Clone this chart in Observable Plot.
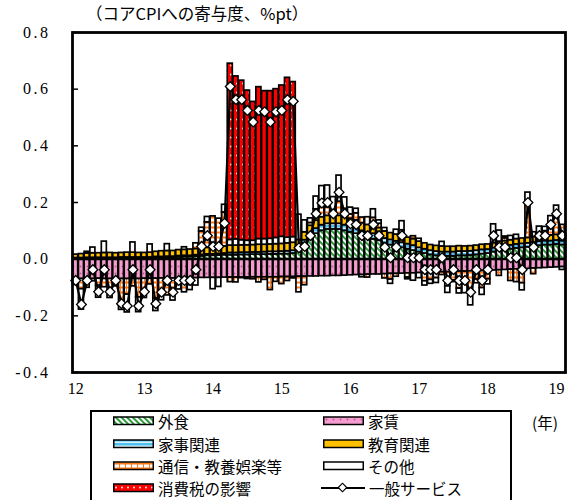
<!DOCTYPE html>
<html>
<head>
<meta charset="utf-8">
<script src="https://cdn.jsdelivr.net/npm/d3@7"></script>
<script src="https://cdn.jsdelivr.net/npm/@observablehq/plot@0.6"></script>
<style>
  html, body { margin: 0; padding: 0; background: #fff; }
  #wrap { position: relative; width: 567px; height: 500px; overflow: hidden; font-family: "Noto Sans CJK JP", sans-serif; color: #000; }
  #title { height: 25px; line-height: 27px; padding-left: 86px; font-size: 16.5px; white-space: nowrap; }
  #chart { height: 385px; }
  #chart svg { display: block; }
  #chart svg text { font-family: "Liberation Serif", "DejaVu Serif", serif; }
  #chart g[aria-label="y-axis tick label"] text { letter-spacing: 2.5px; }
  #legend { position: absolute; left: 90px; top: 410px; width: 422px; height: 100px; border: 2px solid #000; box-sizing: border-box; }
  .item { position: absolute; height: 18px; line-height: 18px; display: flex; align-items: center; font-size: 15.5px; white-space: nowrap; }
  .item svg { display: block; margin-right: 4px; }
  #unit { position: absolute; left: 532px; top: 411px; font-size: 15.5px; line-height: 22px; }
</style>
</head>
<body>
<svg width="0" height="0" style="position:absolute">
  <defs>
    <pattern id="pGai" width="4" height="4" patternUnits="userSpaceOnUse" patternTransform="rotate(-45)">
      <rect width="4" height="4" fill="#ffffff"/><rect width="2" height="4" fill="#2b9a3b"/>
    </pattern>
    <pattern id="pRent" width="7" height="7" patternUnits="userSpaceOnUse">
      <rect width="7" height="7" fill="#f59ccf"/><circle cx="3.5" cy="3.5" r="0.9" fill="#b8589a"/>
    </pattern>
    <pattern id="pKaji" width="4" height="4" patternUnits="userSpaceOnUse">
      <rect width="4" height="4" fill="#4fbfee"/><rect y="2.6" width="4" height="1.2" fill="#ffffff"/>
    </pattern>
    <pattern id="pTsu" width="6" height="5" patternUnits="userSpaceOnUse">
      <rect width="6" height="5" fill="#ffffff"/><rect y="1.5" width="6" height="2" fill="#ff7a1a"/><rect x="0" width="1" height="5" fill="#ff7a1a"/>
    </pattern>
    <pattern id="pTax" width="6" height="9" patternUnits="userSpaceOnUse">
      <rect width="6" height="9" fill="#ff0000"/><circle cx="3" cy="4.5" r="0.9" fill="#ffffff"/>
    </pattern>
  </defs>
</svg>
<div id="wrap">
  <div id="title">（コアCPIへの寄与度、%pt）</div>
  <div id="chart"></div>
  <div id="legend"></div>
  <div id="unit">(年)</div>
</div>
<script>
// ---- data (monthly, 2012/01 .. 2019/02) ----
const yearLabels = ["12", "13", "14", "15", "16", "17", "18", "19"];
const seriesNames = ["外食", "家賃", "家事関連", "教育関連", "通信・教養娯楽等", "その他", "消費税の影響"];
const lineName = "一般サービス";

const gaishoku = [
  0.002,0.002,0.003,0.003,0.003,0.003,0.003,0.003,0.004,0.004,0.004,0.004,
  0.004,0.004,0.005,0.005,0.006,0.006,0.007,0.008,0.008,0.009,0.01,0.012,
  0.012,0.013,0.014,
  0.014,0.014,0.015,0.015,0.016,0.016,0.016,0.017,0.017,0.018,0.018,0.02,
  0.03,0.055,0.075,0.09,0.1,0.105,0.105,0.105,0.1,0.095,0.09,0.08,0.075,0.07,0.065,0.055,0.05,0.045,0.04,0.035,0.03,
  0.025,0.02,0.015,0.012,0.01,0.01,0.01,0.012,0.012,0.013,0.015,0.018,
  0.02,0.025,0.03,0.032,0.035,0.038,0.04,0.042,0.045,0.048,0.05,0.05,0.052,0.05
];
const yachin = [
  -0.07,-0.07,-0.071,-0.07,-0.069,-0.07,-0.07,-0.069,-0.07,-0.07,-0.069,-0.07,
  -0.069,-0.069,-0.069,-0.068,-0.068,-0.068,-0.068,-0.067,-0.067,-0.067,-0.066,-0.066,
  -0.066,-0.066,-0.065,
  -0.065,-0.065,-0.065,-0.065,-0.064,-0.064,-0.064,-0.064,-0.064,-0.063,-0.063,-0.063,
  -0.062,-0.062,-0.061,-0.061,-0.06,-0.06,-0.059,-0.059,-0.058,
  -0.057,-0.056,-0.056,-0.055,-0.054,-0.054,-0.053,-0.052,-0.052,-0.051,-0.05,-0.05,
  -0.049,-0.048,-0.048,-0.047,-0.046,-0.046,-0.045,-0.044,-0.044,-0.043,-0.042,-0.042,
  -0.041,-0.04,-0.039,-0.038,-0.037,-0.036,-0.035,-0.034,-0.033,-0.032,-0.031,-0.03,
  -0.029,-0.028
];
const kaji = [
  0.002,0.002,0.002,0.002,0.002,0.002,0.002,0.002,0.002,0.002,0.002,0.002,
  0.002,0.002,0.003,0.003,0.003,0.003,0.004,0.004,0.004,0.005,0.005,0.005,
  0.005,0.006,0.006,
  0.008,0.008,0.008,0.008,0.008,0.008,0.009,0.009,0.009,0.009,0.01,0.01,
  0.01,0.012,0.015,0.018,
  0.02,0.02,0.02,0.02,0.02,0.02,0.02,0.02,0.02,0.02,0.02,
  0.018,0.018,0.018,0.018,0.018,0.018,
  0.015,0.015,0.015,0.015,0.015,0.015,0.015,0.015,0.015,0.015,0.015,0.015,
  0.014,0.014,0.014,0.014,0.014,0.014,0.014,0.014,0.014,0.014,0.014,0.014,0.014,0.014
];
const kyoiku = [
  0.012,0.014,0.015,0.016,0.016,0.017,0.017,0.016,0.016,0.017,0.017,0.016,
  0.016,0.017,0.018,0.02,0.02,0.02,0.021,0.021,0.022,0.022,0.023,0.023,
  0.024,0.024,0.025,
  0.026,0.026,0.026,0.026,0.026,0.027,0.026,0.026,0.027,0.027,0.028,0.028,
  0.028,0.028,0.028,0.028,0.028,0.028,0.028,0.028,0.028,0.028,
  0.027,0.027,0.026,0.026,0.025,0.025,0.024,0.024,0.024,0.023,0.023,
  0.022,0.021,0.02,0.02,0.02,0.019,0.019,0.019,0.018,0.018,0.018,0.018,
  0.018,0.018,0.018,0.018,0.018,0.019,0.019,0.019,0.019,0.02,0.02,0.02,0.02,0.02
];
const tsushin = [
  -0.015,-0.036,-0.03,-0.008,-0.025,-0.029,-0.045,-0.015,-0.09,-0.055,-0.027,-0.065,
  -0.04,-0.02,-0.07,-0.05,-0.06,-0.05,-0.02,-0.05,-0.025,0.02,0.06,0.09,
  0.11,0.1,0.12,
  -0.016,-0.017,-0.002,-0.005,-0.007,-0.018,-0.009,-0.045,-0.016,-0.025,-0.014,-0.005,
  -0.055,-0.03,0.01,0.04,0.06,0.03,0.02,0.05,0.03,0.015,0.025,0.02,-0.01,0.03,0.015,-0.015,-0.02,-0.01,0.02,-0.015,0.01,
  0.01,-0.03,-0.025,-0.02,-0.01,-0.05,-0.03,-0.06,-0.045,-0.07,-0.03,-0.06,
  -0.03,0.03,-0.02,0.01,-0.04,-0.045,-0.05,0.12,-0.02,0.01,0.015,0.03,0.06,0.037
];
const sonota = [
  -0.006,-0.072,0.006,0.02,-0.042,0.04,-0.022,-0.012,-0.019,-0.063,0.036,-0.052,
  -0.028,0.029,-0.044,-0.027,0.024,-0.028,-0.019,0.009,-0.017,-0.026,0.013,0.019,
  -0.04,-0.032,0.027,
  0.02,0.022,0.018,0.016,0.015,0.02,0.02,0.02,0.022,0.025,0.02,0.02,
  0.089,0.042,0.016,0.045,0.05,0.077,0.046,0.092,0.04,0.024,0.016,-0.008,0.027,0.03,0.012,0.012,-0.015,0.017,0.032,-0.006,-0.026,
  -0.018,-0.015,-0.014,-0.017,0.016,-0.023,-0.006,-0.017,-0.031,-0.05,-0.013,-0.024,
  -0.018,0.036,0.039,0.006,0.015,0.015,-0.025,0.04,0.017,0.023,0.015,0.038,0.043,-0.01
];
const shohizei = [
  0,0,0,0,0,0,0,0,0,0,0,0,
  0,0,0,0,0,0,0,0,0,0,0,0,
  0,0,0,
  0.622,0.575,0.563,0.53,0.49,0.536,0.522,0.521,0.525,0.534,0.564,0.547,
  0,0,0,0,0,0,0,0,0,0,0,0,0,0,0,0,0,0,0,0,0,
  0,0,0,0,0,0,0,0,0,0,0,0,
  0,0,0,0,0,0,0,0,0,0,0,0,0,0
];
const ippanService = [
  -0.075,-0.16,-0.075,-0.037,-0.115,-0.037,-0.115,-0.075,-0.157,-0.165,-0.037,-0.165,
  -0.115,-0.037,-0.157,-0.117,-0.075,-0.117,-0.075,-0.075,-0.075,-0.037,0.045,0.083,
  0.045,0.045,0.127,
  0.609,0.563,0.563,0.525,0.484,0.525,0.52,0.484,0.52,0.525,0.563,0.557,
  0.04,0.045,0.083,0.16,0.198,0.2,0.16,0.236,0.16,0.125,0.122,0.083,0.083,0.122,0.083,0.042,0.005,0.042,0.083,0.005,0.005,
  0.005,-0.037,-0.037,-0.037,0.005,-0.075,-0.037,-0.075,-0.075,-0.117,-0.037,-0.075,
  -0.037,0.083,0.042,0.042,0.005,0.005,-0.037,0.2,0.042,0.083,0.083,0.122,0.16,0.083
];
const yTicks = [-0.4, -0.2, 0, 0.2, 0.4, 0.6, 0.8];

// ---- styles ----
const seriesValues = [gaishoku, yachin, kaji, kyoiku, tsushin, sonota, shohizei];
const fills = ["url(#pGai)", "url(#pRent)", "url(#pKaji)", "#ffc000", "url(#pTsu)", "#ffffff", "url(#pTax)"];
const serif = "'Liberation Serif', 'DejaVu Serif', serif";

const months = d3.range(ippanService.length);
const bars = [];
seriesNames.forEach((s, si) => seriesValues[si].forEach((v, i) => bars.push({m: i, s, v})));
const line = ippanService.map((v, i) => ({m: i, v}));
const janIdx = yearLabels.map((_, k) => k * 12);

const chart = Plot.plot({
  width: 567,
  height: 385,
  marginTop: 7,
  marginBottom: 38,
  marginLeft: 72,
  marginRight: 2,
  style: {fontFamily: serif, fontSize: "16px", color: "#000", background: "#fff"},
  x: {type: "band", domain: months, padding: 0.12, axis: null, label: null},
  y: {domain: [-0.4, 0.8], axis: null, label: null},
  color: {type: "ordinal", domain: seriesNames, range: fills},
  marks: [
    Plot.barY(bars, {x: "m", y: "v", fill: "s", stroke: "#000", strokeWidth: 1.7}),
    Plot.ruleY([0], {stroke: "#000", strokeWidth: 2}),
    Plot.line(line, {x: "m", y: "v", stroke: "#000", strokeWidth: 2.2}),
    Plot.dot(line, {x: "m", y: "v", symbol: "square", rotate: 45, r: 3.9, fill: "#fff", stroke: "#000", strokeWidth: 1.3}),
    Plot.axisY(yTicks, {tickSize: 0, tickPadding: 22, fontSize: 16, fontFamily: serif, label: null,
      tickFormat: d => (d < 0 ? "-" : "") + Math.abs(d).toFixed(1)}),
    Plot.axisY(yTicks, {tickSize: 6, dx: 6, strokeWidth: 1.5, label: null, tickFormat: () => ""}),
    Plot.axisX(janIdx, {tickSize: 0, tickPadding: 10, fontSize: 16, fontFamily: serif, label: null,
      tickFormat: i => yearLabels[i / 12]}),
    Plot.frame({stroke: "#000", strokeWidth: 2.8})
  ]
});
document.getElementById("chart").appendChild(chart);

// ---- legend ----
const legend = document.getElementById("legend");
const rowTop = [0, 22.5, 45, 67];
const colLeft = [21, 231];
const legendItems = [
  [0, 0, 0], [1, 0, 1],
  [2, 1, 0], [3, 1, 1],
  [4, 2, 0], [5, 2, 1],
  [6, 3, 0]
];
legendItems.forEach(([si, r, c]) => {
  const div = document.createElement("div");
  div.className = "item";
  div.style.top = rowTop[r] + "px";
  div.style.left = colLeft[c] + "px";
  div.innerHTML = `<svg width="41" height="10"><rect x="0.75" y="1" width="39.5" height="7.5" fill="${fills[si]}" stroke="#000" stroke-width="1.5"/></svg><span>${seriesNames[si]}</span>`;
  legend.appendChild(div);
});
{
  const div = document.createElement("div");
  div.className = "item";
  div.style.top = rowTop[3] + "px";
  div.style.left = (colLeft[1] - 2) + "px";
  div.innerHTML = `<svg width="44" height="12"><line x1="0" y1="6" x2="44" y2="6" stroke="#000" stroke-width="2"/><rect x="18.5" y="2.5" width="6" height="6" transform="rotate(45 21.5 5.5)" fill="#fff" stroke="#000" stroke-width="1.2"/></svg><span>${lineName}</span>`;
  legend.appendChild(div);
}
</script>
</body>
</html>
